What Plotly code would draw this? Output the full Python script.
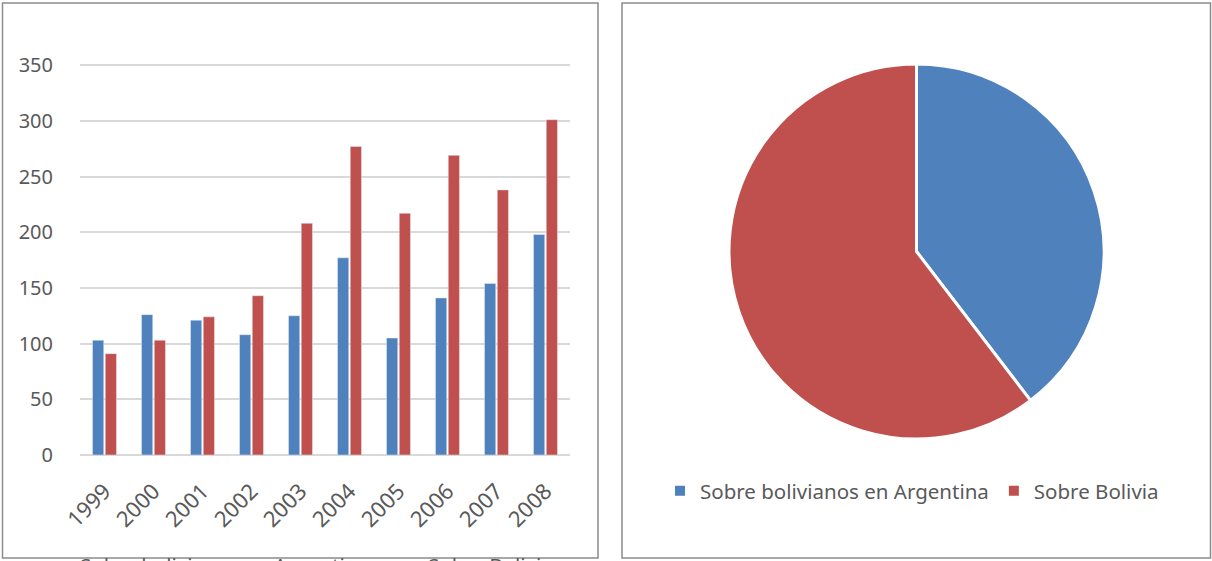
import plotly.graph_objects as go

years = ["1999", "2000", "2001", "2002", "2003", "2004", "2005", "2006", "2007", "2008"]
sobre_bolivianos_arg = [103, 126, 121, 108, 125, 177, 105, 141, 154, 198]
sobre_bolivia = [91, 103, 124, 143, 208, 277, 217, 269, 238, 301]
pie_labels = ["Sobre bolivianos en Argentina", "Sobre Bolivia"]
pie_values = [39.6, 60.4]
y_ticks = [0, 50, 100, 150, 200, 250, 300, 350]

BLUE = "#4F81BD"
RED = "#C0504D"
TXT = "#595959"
FONT = "Noto Sans"

W, H = 1212, 561

def px(x):
    return x / W

def py(y):
    return (H - y) / H

fig = go.Figure()
fig.add_trace(go.Bar(x=years, y=sobre_bolivianos_arg, name=pie_labels[0],
                     marker=dict(color=BLUE), showlegend=False))
fig.add_trace(go.Bar(x=years, y=sobre_bolivia, name=pie_labels[1],
                     marker=dict(color=RED), showlegend=False))
fig.add_trace(go.Pie(labels=pie_labels, values=pie_values, sort=False,
                     direction="clockwise", rotation=0, textinfo="none",
                     marker=dict(colors=[BLUE, RED], line=dict(color="white", width=3)),
                     domain=dict(x=[px(729), px(1104)], y=[py(439), py(64)]),
                     hoverinfo="label+percent"))

fig.update_layout(
    width=W, height=H,
    margin=dict(l=0, r=0, t=0, b=0, autoexpand=False),
    paper_bgcolor="white", plot_bgcolor="white",
    font=dict(family=FONT, color=TXT, size=20),
    barmode="group", bargap=0.48, bargroupgap=0.12,
    xaxis=dict(domain=[px(80), px(570)], tickangle=-45, showgrid=False,
               showline=False, ticks="", automargin=False, ticklabelstandoff=18,
               tickfont=dict(size=22, color=TXT)),
    yaxis=dict(domain=[py(455), py(64)], range=[0, 351], tickvals=y_ticks,
               showgrid=True, gridcolor="#D9D9D9", gridwidth=1.5,
               zeroline=True, zerolinecolor="#D9D9D9", zerolinewidth=1.5,
               showline=False, ticks="", ticklabelstandoff=26, automargin=False,
               tickfont=dict(size=20, color=TXT)),
    legend=dict(orientation="h", x=px(660), y=py(491), xanchor="left", yanchor="middle",
                font=dict(size=20.5, color=TXT), itemsizing="constant",
                bgcolor="rgba(0,0,0,0)"),
    shapes=[
        dict(type="rect", xref="paper", yref="paper", x0=px(2.5), x1=px(598), y0=py(558), y1=py(3),
             line=dict(color="#8C8C8C", width=1.5), fillcolor="rgba(0,0,0,0)", layer="above"),
        dict(type="rect", xref="paper", yref="paper", x0=px(622), x1=px(1210.5), y0=py(558), y1=py(3),
             line=dict(color="#8C8C8C", width=1.5), fillcolor="rgba(0,0,0,0)", layer="above"),
    ],
    annotations=[
        dict(text="Sobre bolivianos en Argentina", xref="paper", yref="paper",
             x=px(78), y=py(549), xanchor="left", yanchor="top", showarrow=False,
             font=dict(size=20.5, color=TXT)),
        dict(text="Sobre Bolivia", xref="paper", yref="paper",
             x=px(426), y=py(549), xanchor="left", yanchor="top", showarrow=False,
             font=dict(size=20.5, color=TXT)),
    ],
)

fig.write_html("out.html", config={"displayModeBar": False},
               post_script="document.body.style.margin='0';document.body.style.overflow='hidden';")
